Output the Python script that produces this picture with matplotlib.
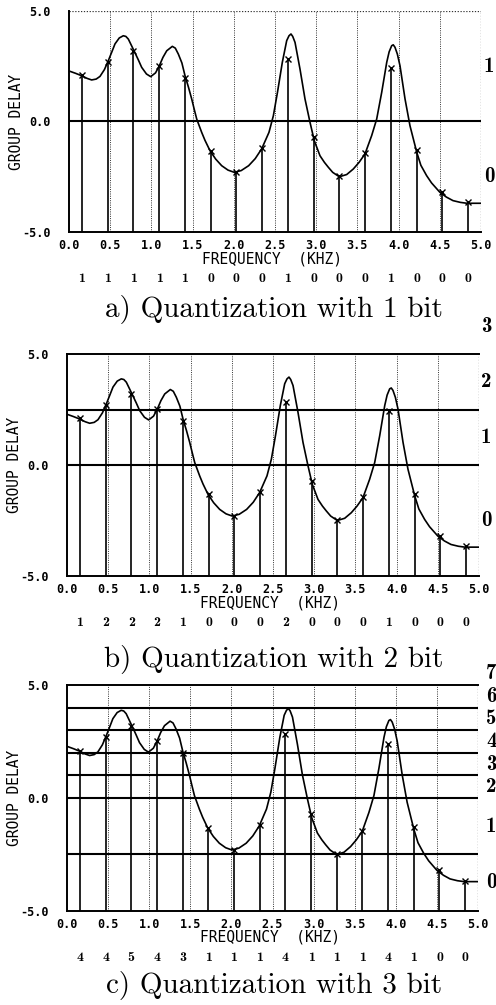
import numpy as np
import matplotlib
matplotlib.use('Agg')
import matplotlib.pyplot as plt

# group delay curve (kHz, delay)
freq_curve = [0.0, 0.012, 0.08, 0.154, 0.22, 0.275, 0.33, 0.376, 0.43, 0.477, 0.52, 0.558,
              0.61, 0.659, 0.69, 0.72, 0.75, 0.789, 0.84, 0.882, 0.94, 0.991, 1.05, 1.096,
              1.14, 1.186, 1.254, 1.29, 1.327, 1.37, 1.408, 1.45, 1.489, 1.52, 1.55, 1.61,
              1.65, 1.711, 1.78, 1.853, 1.93, 2.006, 2.09, 2.18, 2.26, 2.338, 2.427, 2.48,
              2.53, 2.589, 2.642, 2.67, 2.694, 2.715, 2.743, 2.803, 2.864, 2.925, 2.977, 3.046,
              3.10, 3.147, 3.20, 3.28, 3.37, 3.45, 3.52, 3.592, 3.673, 3.734, 3.795, 3.856,
              3.885, 3.916, 3.935, 3.956, 3.985, 4.017, 4.078, 4.138, 4.22, 4.27, 4.34, 4.40,
              4.50, 4.58, 4.66, 4.75, 4.83, 5.0]
delay_curve = [2.28, 2.27, 2.18, 2.07, 1.95, 1.88, 1.92, 2.04, 2.35, 2.75, 3.15, 3.51,
               3.78, 3.88, 3.85, 3.73, 3.50, 3.20, 2.80, 2.45, 2.15, 2.03, 2.20, 2.52,
               2.90, 3.20, 3.40, 3.32, 3.05, 2.65, 2.07, 1.55, 1.02, 0.55, 0.11, -0.49,
               -0.85, -1.32, -1.70, -2.00, -2.20, -2.30, -2.22, -2.00, -1.68, -1.24, -0.49, 0.26,
               1.32, 2.68, 3.66, 3.88, 3.96, 3.85, 3.58, 2.38, 1.02, -0.04, -0.87, -1.55,
               -1.85, -2.07, -2.30, -2.50, -2.40, -2.15, -1.85, -1.47, -0.64, 0.11, 1.32, 2.68,
               3.15, 3.43, 3.47, 3.36, 3.05, 2.52, 1.02, -0.19, -1.39, -1.98, -2.45, -2.78,
               -3.20, -3.42, -3.58, -3.66, -3.70, -3.70]

# band samples (x marks)
sample_freq = [0.156, 0.469, 0.781, 1.094, 1.406, 1.719, 2.031, 2.344,
               2.656, 2.969, 3.281, 3.594, 3.906, 4.219, 4.531, 4.844]
sample_delay = [2.10, 2.71, 3.20, 2.52, 1.97, -1.32, -2.30, -1.21,
                2.83, -0.72, -2.48, -1.44, 2.41, -1.29, -3.20, -3.66]

digits_1bit = ['1', '1', '1', '1', '1', '0', '0', '0', '1', '0', '0', '0', '1', '0', '0', '0']
digits_2bit = ['1', '2', '2', '2', '1', '0', '0', '0', '2', '0', '0', '0', '1', '0', '0', '0']
digits_3bit = ['4', '4', '5', '4', '3', '1', '1', '1', '4', '1', '1', '1', '4', '1', '0', '0']

thresholds_1bit = [0.0]
thresholds_2bit = [0.0, 2.5]
thresholds_3bit = [-2.5, 0.0, 1.0, 2.0, 3.0, 4.0]

levels_1bit = [-2.5, 2.5]
levels_2bit = [-2.5, 1.25, 3.75, 6.25]
levels_3bit = [-3.75, -1.25, 0.5, 1.5, 2.5, 3.5, 4.5, 5.5]

xtick_vals = [0.0, 0.5, 1.0, 1.5, 2.0, 2.5, 3.0, 3.5, 4.0, 4.5, 5.0]
xtick_labels = ['0.0', '0.5', '1.0', '1.5', '2.0', '2.5', '3.0', '3.5', '4.0', '4.5', '5.0']
ytick_vals = [-5.0, 0.0, 5.0]
ytick_labels = ['-5.0', '0.0', '5.0']

captions = ['a) Quantization with 1 bit', 'b) Quantization with 2 bit', 'c) Quantization with 3 bit']

W, H = 496, 1005
MONO = 'DejaVu Sans Mono'

fig = plt.figure(figsize=(W / 100, H / 100), dpi=100)


def px_axes(left, top, right, bottom):
    return fig.add_axes([left / W, 1 - bottom / H, (right - left) / W, (bottom - top) / H])


def draw_panel(ax, thresholds, levels, digits, top_dotted, label_dx):
    ax.set_xlim(0, 5)
    ax.set_ylim(-5, 5)
    for x in xtick_vals[1:]:
        ax.axvline(x, color='#333333', lw=0.7, ls=(0, (1, 1.3)), zorder=1)
    for t in thresholds:
        ax.axhline(t, color='k', lw=1.5, zorder=2)
    ax.vlines(sample_freq, -5, sample_delay, color='k', lw=1.2, zorder=3)
    ax.plot(freq_curve, delay_curve, color='k', lw=1.2, zorder=4)
    ax.plot(sample_freq, sample_delay, 'kx', ms=4.5, mew=1.0, zorder=5)

    ax.set_xticks(xtick_vals)
    ax.set_xticklabels(xtick_labels, fontfamily=MONO, fontweight='bold', fontsize=8.5)
    ax.set_yticks(ytick_vals)
    ax.set_yticklabels(ytick_labels, fontfamily=MONO, fontweight='bold', fontsize=8.5)
    ax.tick_params(axis='x', length=0, pad=5)
    ax.tick_params(axis='y', length=0, pad=13)

    for side in ['left', 'bottom']:
        ax.spines[side].set_linewidth(1.4)
    ax.spines['right'].set_visible(False)
    ax.axvline(5.0, color='#333333', lw=0.9, ls=(0, (1, 1.3)), zorder=1)
    if top_dotted:
        ax.spines['top'].set_visible(False)
        ax.axhline(5.0, color='#333333', lw=0.9, ls=(0, (1, 1.3)), zorder=1)
    else:
        ax.spines['top'].set_linewidth(1.4)

    ax.annotate('GROUP DELAY', xy=(0, 0.5), xycoords='axes fraction', xytext=(-52, 0),
                textcoords='offset pixels', rotation=90, ha='center', va='center',
                fontfamily=MONO, fontsize=10.5)
    ax.annotate('FREQUENCY  (KHZ)', xy=(0.5, 0), xycoords='axes fraction', xytext=(-3, -31),
                textcoords='offset pixels', ha='center', va='baseline',
                fontfamily=MONO, fontsize=10.5)

    for f, d in zip(sample_freq, digits):
        ax.annotate(d, xy=(f, 0), xycoords=('data', 'axes fraction'), xytext=(0, -50),
                    textcoords='offset pixels', ha='center', va='baseline',
                    fontfamily='cmb10', fontsize=10)

    for i, lv in enumerate(levels):
        ax.annotate(str(i), xy=(1, lv), xycoords=('axes fraction', 'data'), xytext=(label_dx, 0),
                    textcoords='offset pixels', ha='left', va='center',
                    fontfamily='cmb10', fontsize=15, annotation_clip=False)


ax_a = px_axes(69, 11, 481, 232)
ax_b = px_axes(67, 354, 479, 576)
ax_c = px_axes(67, 685, 478, 911)

draw_panel(ax_a, thresholds_1bit, levels_1bit, digits_1bit, True, 3)
draw_panel(ax_b, thresholds_2bit, levels_2bit, digits_2bit, False, 2)
draw_panel(ax_c, thresholds_3bit, levels_3bit, digits_3bit, False, 8)

for cap, base in zip(captions, [317, 667, 993]):
    fig.text(274 / W, 1 - base / H, cap, ha='center', va='baseline',
             fontfamily='cmr10', fontsize=21)

fig.savefig('out.png', dpi=100, facecolor='white')
